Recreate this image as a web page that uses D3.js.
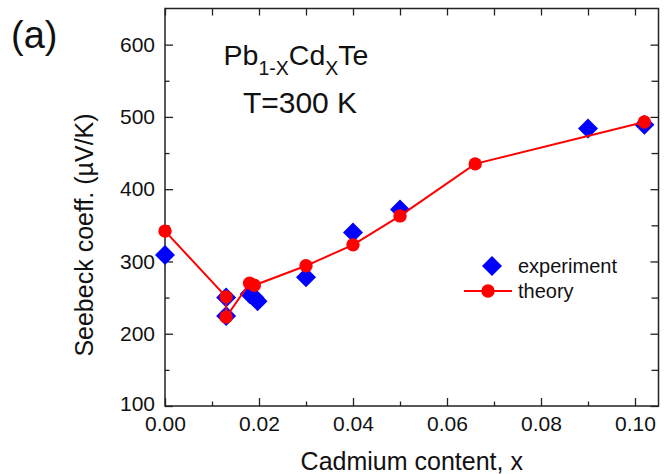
<!DOCTYPE html>
<html>
<head>
<meta charset="utf-8">
<script src="https://cdn.jsdelivr.net/npm/d3@7"></script>
<style>
  html, body { margin: 0; padding: 0; background: #fff; }
  svg { display: block; }
  text { font-family: "Liberation Sans", Arial, sans-serif; fill: #111; }
</style>
</head>
<body>
<svg id="chart" width="670" height="474"></svg>
<script>
// Cadmium content x and measured Seebeck coefficient (µV/K)
const expX = [0.0, 0.013, 0.013, 0.018, 0.019, 0.0197, 0.03, 0.04, 0.05, 0.09, 0.102];
const expS = [309, 250, 224.5, 255, 250, 245, 278, 340, 372, 484, 489];

// Calculated Seebeck coefficient, joined in order
const thX = [0.0, 0.013, 0.013, 0.018, 0.019, 0.03, 0.04, 0.05, 0.066, 0.102];
const thS = [342, 251, 223, 270, 267, 294, 323, 363, 435, 493];

const xTicks = [0, 0.02, 0.04, 0.06, 0.08, 0.10];
const xMinor = [0.01, 0.03, 0.05, 0.07, 0.09];
const yTicks = [100, 200, 300, 400, 500, 600];
const yMinor = [150, 250, 350, 450, 550];

const seriesNames = ["experiment", "theory"];

const svg = d3.select("#chart");
const M = { left: 165, right: 658.5, top: 8.5, bottom: 406 };

const x = d3.scaleLinear().domain([0, 0.105]).range([M.left, M.right]);
const y = d3.scaleLinear().domain([100, 650]).range([M.bottom, M.top]);

const blue = "#0000ff", red = "#ff0000";
const frame = svg.append("g");

// inward ticks on all four sides
function tickAxis(axisFn, scale, values, len, transform) {
  const g = frame.append("g").attr("transform", transform)
    .call(axisFn(scale).tickValues(values).tickSize(len).tickFormat(""));
  g.select(".domain").remove();
  g.selectAll(".tick line").attr("stroke", "#222").attr("stroke-width", 1.3);
  return g;
}
tickAxis(d3.axisTop, x, xTicks, 8, `translate(0,${M.bottom})`);
tickAxis(d3.axisTop, x, xMinor, 4.5, `translate(0,${M.bottom})`);
tickAxis(d3.axisBottom, x, xTicks, 7, `translate(0,${M.top})`);
tickAxis(d3.axisBottom, x, xMinor, 7, `translate(0,${M.top})`);
tickAxis(d3.axisRight, y, yTicks, 8, `translate(${M.left},0)`);
tickAxis(d3.axisRight, y, yMinor, 4.5, `translate(${M.left},0)`);
tickAxis(d3.axisLeft, y, yTicks, 8, `translate(${M.right},0)`);
tickAxis(d3.axisLeft, y, yMinor, 7, `translate(${M.right},0)`);

frame.append("rect")
  .attr("x", M.left).attr("y", M.top)
  .attr("width", M.right - M.left).attr("height", M.bottom - M.top)
  .attr("fill", "none").attr("stroke", "#222").attr("stroke-width", 1.5);

// tick labels
const xl = svg.append("g").attr("transform", `translate(0,${M.bottom})`)
  .call(d3.axisBottom(x).tickValues(xTicks).tickSize(0).tickPadding(10).tickFormat(d3.format(".2f")));
xl.select(".domain").remove();
xl.selectAll("text").attr("font-size", 21).attr("font-family", "Liberation Sans, Arial, sans-serif").attr("fill", "#111");

const yl = svg.append("g").attr("transform", `translate(${M.left},0)`)
  .call(d3.axisLeft(y).tickValues(yTicks).tickSize(0).tickPadding(10).tickFormat(d3.format("d")));
yl.select(".domain").remove();
yl.selectAll("text").attr("font-size", 21).attr("font-family", "Liberation Sans, Arial, sans-serif").attr("fill", "#111");
// lowest value label sits slightly above its tick, clear of the 0.00 label
yl.selectAll(".tick").filter(d => d === 100).select("text").attr("dy", "0.2em");

// axis titles
svg.append("text")
  .attr("x", (M.left + M.right) / 2).attr("y", 470)
  .attr("text-anchor", "middle").attr("font-size", 25)
  .text("Cadmium content, x");

svg.append("text")
  .attr("transform", "translate(93,235) rotate(-90)")
  .attr("text-anchor", "middle").attr("font-size", 25)
  .text("Seebeck coeff. (\u00B5V/K)");

// panel tag
svg.append("text")
  .attr("x", 11).attr("y", 48)
  .attr("font-family", "Lato, 'Open Sans', sans-serif").attr("font-size", 38)
  .text("(a)");

// composition and temperature annotation
const t1 = svg.append("text").attr("x", 296).attr("y", 65)
  .attr("text-anchor", "middle").attr("font-size", 28.5);
t1.append("tspan").text("Pb");
t1.append("tspan").attr("font-size", 19.5).attr("dy", 9.5).text("1-X");
t1.append("tspan").attr("dy", -9.5).text("Cd");
t1.append("tspan").attr("font-size", 19.5).attr("dy", 9.5).text("X");
t1.append("tspan").attr("dy", -9.5).text("Te");

svg.append("text").attr("x", 300).attr("y", 113)
  .attr("text-anchor", "middle").attr("font-size", 30)
  .text("T=300 K");

// data
const plot = svg.append("g");
const diamond = d3.symbol().type(d3.symbolSquare).size(200);
const expData = expX.map((v, i) => ({ x: v, s: expS[i] }));
const thData = thX.map((v, i) => ({ x: v, s: thS[i] }));

plot.selectAll(".exp").data(expData).join("path")
  .attr("class", "exp")
  .attr("d", diamond)
  .attr("transform", d => `translate(${x(d.x)},${y(d.s)}) rotate(45)`)
  .attr("fill", blue);

plot.append("path")
  .datum(thData)
  .attr("fill", "none").attr("stroke", red).attr("stroke-width", 2)
  .attr("d", d3.line().x(d => x(d.x)).y(d => y(d.s)));

plot.selectAll(".th").data(thData).join("circle")
  .attr("class", "th")
  .attr("cx", d => x(d.x)).attr("cy", d => y(d.s)).attr("r", 6.7)
  .attr("fill", red);

// legend
const lg = svg.append("g");
lg.append("path").attr("d", diamond)
  .attr("transform", "translate(492,266) rotate(45)").attr("fill", blue);
lg.append("line").attr("x1", 464).attr("x2", 512).attr("y1", 291).attr("y2", 291)
  .attr("stroke", red).attr("stroke-width", 2);
lg.append("circle").attr("cx", 488).attr("cy", 291).attr("r", 6.7).attr("fill", red);
lg.append("text").attr("x", 518).attr("y", 273).attr("font-size", 20).text(seriesNames[0]);
lg.append("text").attr("x", 518).attr("y", 298).attr("font-size", 20).text(seriesNames[1]);
</script>
</body>
</html>
